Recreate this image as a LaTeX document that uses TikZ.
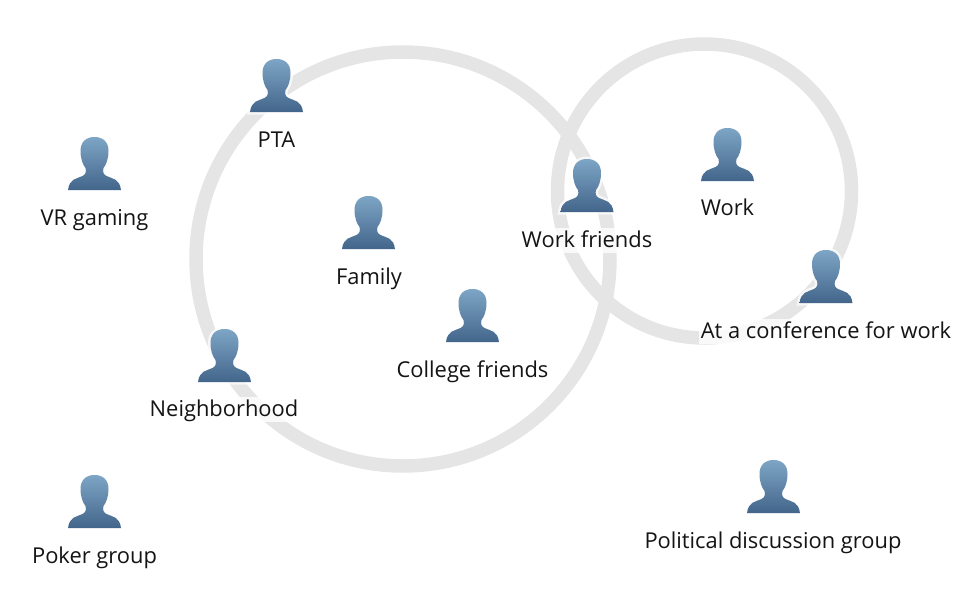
\documentclass[tikz,border=0pt]{standalone}
\usepackage{fontspec}
\setmainfont{Open Sans}
\definecolor{ringgray}{HTML}{E5E5E5}
\definecolor{headblue}{HTML}{7DA5C5}
\definecolor{bodyblue}{HTML}{43658B}
\tikzset{
	ring/.style={draw=ringgray,line width=.27cm},
	lbl/.style={anchor=base,inner ysep=0pt,inner xsep=1pt,text height=.38cm,text depth=.12cm,
		fill=white,fill opacity=.8,text opacity=1,font=\fontsize{12.45}{15}\selectfont,text=black!92},
	person/.pic={
		\path[preaction={draw=white,draw opacity=.7,line width=.1cm},
			top color=headblue,bottom color=bodyblue,shading angle=0]
			(0,0) .. controls (-8.5,0) and (-14,5) .. (-14,14)
			.. controls (-14,22) and (-11.5,28) .. (-9,31)
			.. controls (-8,35) and (-9,37.5) .. (-12,39)
			.. controls (-19,42) and (-25,42) .. (-26.5,53)
			-- (26.5,53)
			.. controls (25,42) and (19,42) .. (12,39)
			.. controls (9,37.5) and (8,35) .. (9,31)
			.. controls (11.5,28) and (14,22) .. (14,14)
			.. controls (14,5) and (8.5,0) .. (0,0) -- cycle;
	}
}
\begin{document}
\begin{tikzpicture}[x=.02cm,y=-.02cm]
	\useasboundingbox (0,0) rectangle (977,595);
	% rings
	\draw[ring] (403,259) circle (207);
	\draw[ring] (704.5,191) circle (147);
	% people
	\pic (ptaicon) at (276.5,59) {person};
	\node[lbl] (pta) at (276.5,147) {PTA};
	\pic (vricon) at (94.5,137) {person};
	\node[lbl] (vr) at (94.5,225) {VR gaming};
	\pic (familyicon) at (368.5,196) {person};
	\node[lbl] (family) at (369,284) {Family};
	\pic (wfriendsicon) at (587,159) {person};
	\node[lbl] (wfriends) at (587,247) {Work friends};
	\pic (workicon) at (727.5,128) {person};
	\node[lbl] (work) at (727.5,215) {Work};
	\pic (conficon) at (826,250) {person};
	\node[lbl] (conf) at (826,338) {At a conference for work};
	\pic (collegeicon) at (472.5,289) {person};
	\node[lbl] (college) at (472.5,377) {College friends};
	\pic (neighicon) at (224.5,329) {person};
	\node[lbl] (neigh) at (224,416) {Neighborhood};
	\pic (pokericon) at (94.5,475) {person};
	\node[lbl] (poker) at (94.5,563) {Poker group};
	\pic (policon) at (773.5,460) {person};
	\node[lbl] (pol) at (773,548) {Political discussion group};
\end{tikzpicture}
\end{document}
